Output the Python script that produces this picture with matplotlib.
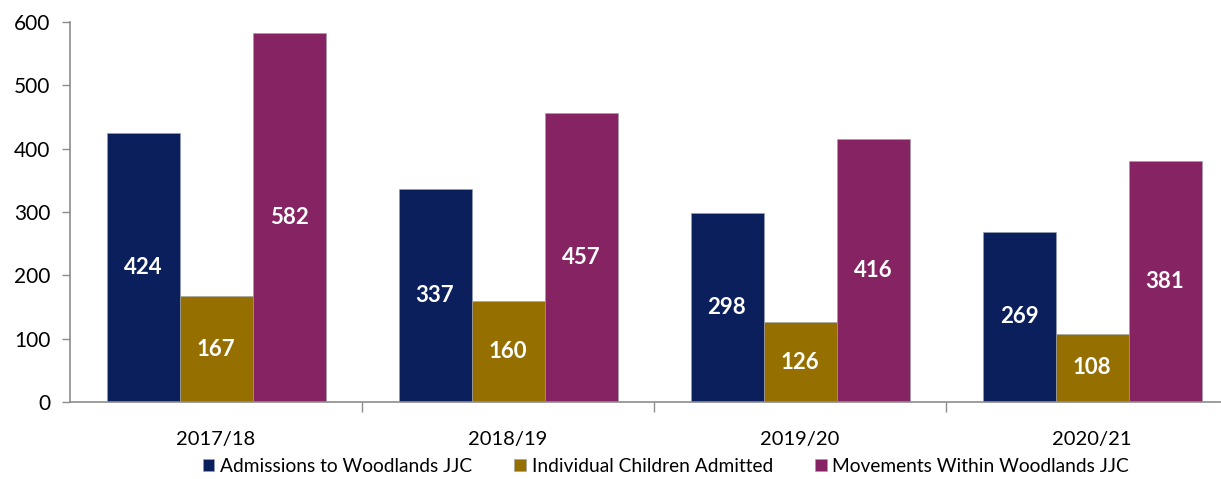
import matplotlib
matplotlib.use("Agg")
import matplotlib.pyplot as plt
import numpy as np

categories = ["2017/18", "2018/19", "2019/20", "2020/21"]
series_names = ["Admissions to Woodlands JJC", "Individual Children Admitted", "Movements Within Woodlands JJC"]
admissions = [424, 337, 298, 269]
individuals = [167, 160, 126, 108]
movements = [582, 457, 416, 381]
colors = ["#0A1F5C", "#957000", "#862362"]

plt.rcParams['font.family'] = ['Lato', 'DejaVu Sans']

fig = plt.figure(figsize=(12.21, 4.79), dpi=100)
W, H = 1221, 479
ax = fig.add_axes([70 / W, 1 - 402 / H, 1168 / W, 380 / H])

x = np.arange(len(categories))
bw = 0.25
for i, (vals, name, c) in enumerate(zip([admissions, individuals, movements], series_names, colors)):
    pos = x + (i - 1) * bw
    ax.bar(pos, vals, bw, color=c, label=name, edgecolor='#9aa0b0', linewidth=0.4)
    for p, v in zip(pos, vals):
        ax.text(p, v / 2, str(v), ha='center', va='center', color='white',
                fontsize=16, fontweight='bold')

ax.set_xlim(-0.5, len(categories) - 0.5)
ax.set_ylim(0, 600)
ax.set_yticks(range(0, 601, 100))
ax.tick_params(axis='y', labelsize=15, length=6, color='#8c8c8c', width=1, pad=8)
ax.set_xticks(x)
ax.set_xticklabels(categories, fontsize=14.5)
ax.tick_params(axis='x', length=0, pad=21)
ax.set_xticks(np.arange(0.5, len(categories) - 0.5, 1), minor=True)
ax.tick_params(axis='x', which='minor', length=7, color='#8c8c8c', width=1)

for s in ['top', 'right']:
    ax.spines[s].set_visible(False)
for s in ['left', 'bottom']:
    ax.spines[s].set_color('#8c8c8c')
    ax.spines[s].set_linewidth(1.2)

leg = fig.legend(loc='center', bbox_to_anchor=(666 / W, 1 - 466 / H), ncol=3, frameon=False,
                 fontsize=13.8, handlelength=0.6, handleheight=0.6, handletextpad=0.3,
                 columnspacing=2.2)

fig.savefig("out.png", dpi=100)
